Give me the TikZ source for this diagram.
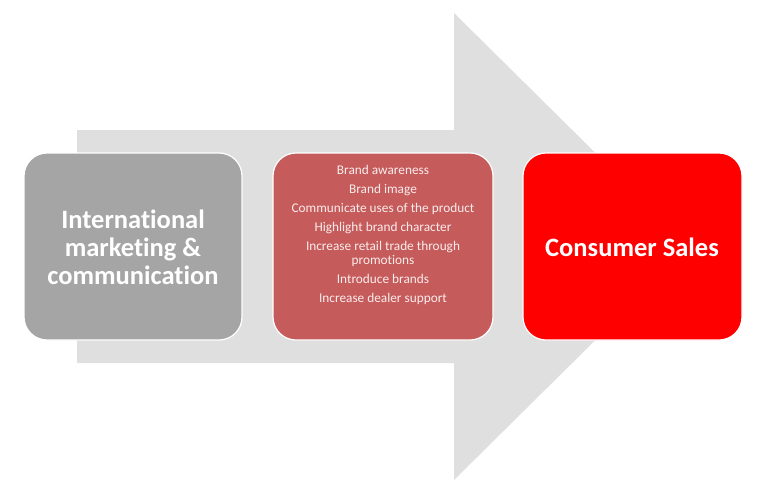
\documentclass[tikz,border=0pt]{standalone}
\usepackage{fontspec}
\setmainfont{Carlito}[Ligatures=NoCommon]
\definecolor{arrowgray}{HTML}{DFDFDF}
\definecolor{boxgray}{HTML}{A5A5A5}
\definecolor{boxrose}{HTML}{C55B5B}
\definecolor{boxred}{HTML}{FF0000}
\definecolor{softwhite}{HTML}{FBECEC}
\begin{document}
\begin{tikzpicture}[x=1pt,y=-1pt,
  stagebox/.style={rectangle, rounded corners=23pt, draw=white, line width=1.2pt,
    minimum height=187pt, inner sep=0pt, text=white},
  bigtext/.style={font=\fontsize{26.5}{28}\selectfont\bfseries, align=center, text=white},
  smalltext/.style={font=\fontsize{13.3}{14}\selectfont, align=center, text=softwhite}]
\useasboundingbox (0,0) rectangle (762,496);
% big background arrow
\fill[arrowgray] (77,130) -- (454,130) -- (454,13) -- (690,246.5) -- (454,480) -- (454,363) -- (77,363) -- cycle;
% stage boxes
\node[stagebox, fill=boxgray, minimum width=218pt] (left) at (133,246.5) {};
\node[stagebox, fill=boxrose, minimum width=220pt] (mid) at (383,246.5) {};
\node[stagebox, fill=boxred, minimum width=219pt] (right) at (632.5,246.5) {};
% texts
\node[bigtext] (lefttext) at (133,247) {International\\marketing \&\\communication};
\node[smalltext] (midtext) at (383,235) {Brand awareness\\[5pt]Brand image\\[5pt]Communicate uses of the product\\[5pt]Highlight brand character\\[5pt]Increase retail trade through\\promotions\\[5pt]Introduce brands\\[5pt]Increase dealer support};
\node[bigtext] (righttext) at (632,247) {Consumer Sales};
\end{tikzpicture}
\end{document}
